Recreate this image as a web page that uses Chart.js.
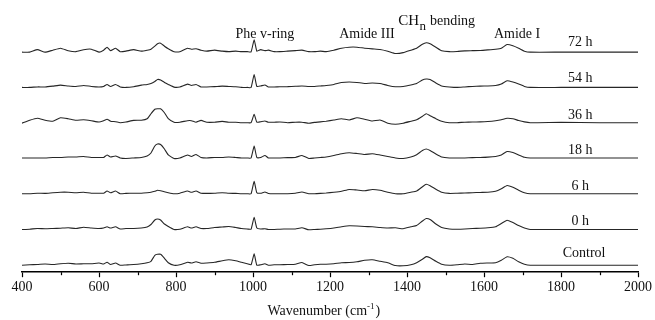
<!DOCTYPE html>
<html>
<head>
<meta charset="utf-8">
<script src="https://cdn.jsdelivr.net/npm/chart.js@4.4.1/dist/chart.umd.min.js"></script>
<style>
  html, body { margin: 0; padding: 0; background: #fff; }
  #wrap { width: 655px; height: 320px; }
</style>
</head>
<body>
<div id="wrap"><canvas id="c" width="655" height="320"></canvas></div>
<script>
// ---- data ----
const wavenumbers = [400,420,440,460,480,500,520,540,560,580,600,
  612,621,630,643,655,670,690,710,
  725,735,745,752,760,770,780,795,810,
  830,840,852,865,880,900,920,937,955,970,985,995,
  1003,1010,1020,1031,1040,1055,1070,1090,1110,1127,1145,1160,1175,1190,1210,
  1230,1250,1270,1290,1310,1330,1350,1370,1390,1410,
  1425,1440,1450,1460,1475,1490,
  1510,1530,1550,1570,1590,1610,1630,
  1645,1660,1675,1690,1705,1720,
  1800,1900,2000];

const seriesNames = ['Control', '0 h', '6 h', '18 h', '36 h', '54 h', '72 h'];
const offsets = [7, 43, 79, 115, 150.5, 186, 221.5];

const control = [0,0.5,0.7,1.3,0.7,1.5,2,1.3,1.5,1.5,2.3,
  1.3,3,0.7,2.3,0,0.3,0.7,1.5,
  2.5,4,10,11,11,7,2.5,0,0.5,
  3,2.3,3.5,2,2.3,3,4.5,5.5,4.5,3,1.5,0.5,
  11.5,0,0.5,1.5,0,0.5,0.5,0.7,1,2.7,-0.3,0.5,1,1,1.5,
  2.5,2.7,3.5,5,5.5,4,2.5,-0.3,-0.5,0.5,
  2.5,6,8.7,7.5,4,1,
  0,0.5,1.3,0.7,2,2.3,2.5,
  5,8.5,7,3.5,1,0,
  0,0,0];
const h0 = [0,0.3,1,0.7,1,1.3,1.7,1,2.3,1.5,1,
  1.5,2.7,1.5,2.7,0.5,1,1,1.5,
  2.5,5,9.5,10.5,9.5,5.5,3,0,0.3,
  2.7,1.5,2.7,1,1,2,2.5,3,2,1,0.5,0.3,
  12.3,1.5,0.5,0.7,0,0,0.3,0.5,0.5,1.7,-0.3,0,0.3,0.7,1.5,
  2.7,3.7,3.5,3,2.7,2,1.5,1.7,0.7,2.7,
  4,8.5,11,10,5.5,2,
  0.5,0.3,0.5,1,1.3,1.7,2.7,
  6,9.3,7,4,1.5,0,
  0,0,0];
const h6 = [0,0,0.5,0.3,1,1.5,1.5,1,1.5,0.5,0.5,
  0.5,2.7,1,2.7,0,0.3,0.5,0.5,
  1,1.5,2.5,3.5,3,2,1,0,0.5,
  2.7,1.5,2.7,0.5,0.3,0.5,1,0.5,0.3,0,0,0,
  12.5,1,0.5,1.7,0.3,0,0,0,0.5,1.7,0,0,0.3,0.7,1.5,
  2.5,4.3,3.7,3,4.3,3.5,1.5,0,0,1.5,
  2.7,7,9.5,8,4.5,1.5,
  0.3,0.5,0.7,1,1.3,1.5,2.5,
  5,8.3,6.5,3.5,1,0,
  0,0,0];
const h18 = [0,0,0,0,0.5,0.5,1,1,1.5,0.5,0.5,
  0.5,3,1,2,0,-0.5,0,0.5,
  2,5,12,14,13.5,9,3,-0.5,0,
  3,1.5,3.5,0.5,0,0.5,0.5,1,0.5,0,0,0,
  12,0.5,0.5,2.5,0,0,0,0.3,0.5,2.5,-0.5,0,0.5,1,2.5,
  4.3,5.3,4.5,3.5,4.3,3,1.5,0,-0.5,1,
  3.3,7.5,9,7.5,4,1,
  0,0,0,0.3,0.5,0.8,1.5,
  3,6.5,5.5,3,0.7,0,
  0,0,0];
const h36 = [-0.5,2.5,4.5,2.5,1.5,5,4,2.5,3,2,0.7,
  2,3.5,1.5,1,0,0.7,2.3,2.5,
  4,9,13.5,14,14,10,4,0.5,0.5,
  2,2,0.5,2.3,0.5,0.5,1.3,0.5,0.5,0,0,0,
  8.5,0.5,1,1.7,0.5,0.5,0.7,0,0.5,0.5,-0.5,0.3,0.8,1.5,2.7,
  4,2.7,5,3.5,1.7,2.7,-0.5,-1.5,-0.5,1.5,
  3,6.5,9,7,4,1.5,
  0,0,0.5,0.7,0.8,1.2,2,
  3,4.5,4,2.2,0.8,0,
  0.3,0,0];
const h54 = [0,0,0.5,0.5,1.3,2.3,1.5,1,2,1,0.5,
  1,3,1,3,0.5,0,0.7,2.3,
  3,4,6,8,7.5,5,3,0.3,0.5,
  3.3,2,3,0.5,0.5,0.8,1.3,1,0.7,0,0,0,
  13,1,1.5,2.5,0.5,0.5,0.7,0.8,1.2,1.5,1,1,1.5,2,3,
  5,5.5,5,4,4.5,4,2,0.7,1,2.5,
  4,7.5,8.5,8,4.5,1.5,
  0.5,0,0.5,1,1.3,1.5,2,
  3.5,6.7,5.5,3.5,1,0,
  0,0,0];
const h72 = [0,0,2.5,0,2,4,1.5,0.5,2.5,3,0,
  2,5,1.5,4,0.5,1,2.5,1,
  2,3,6,8.5,9,6,3.5,0.5,0.5,
  4,3,3.5,2,1,2,1,0.5,1,0.5,0.5,0.3,
  12.5,1,2.5,1.5,2,0.5,0.5,1,1.5,2,0.5,0.5,1,0.5,2,
  4,5,5,4,3.3,2.7,1,-1.3,-0.5,2,
  4,8,9.5,8.5,5,1.5,
  0.5,0.7,1.3,1.5,1.7,2.3,3,
  4,7.7,6.5,4,1,0,
  0,0,0];

const seriesValues = [control, h0, h6, h18, h36, h54, h72];
const xTickStep = 200;
const minorTicks = [500, 700, 900, 1100, 1300, 1500, 1700, 1900];

// label anchors (wavenumber positions)
const labelWn = [1860, 1850, 1850, 1850, 1850, 1850, 1850];
const labelLift = [8, 4, 4, 4, 4, 5, 6];

// ---- chart ----
const datasets = seriesValues.map((vals, i) => ({
  label: seriesNames[i],
  data: wavenumbers.map((w, j) => ({ x: w, y: offsets[i] + vals[j] })),
  borderColor: '#262626',
  borderWidth: 1.1,
  pointRadius: 0,
  fill: false,
  tension: 0.15
}));

const serif = '"Liberation Serif", "Times New Roman", serif';

const textPlugin = {
  id: 'texts',
  afterDraw(chart) {
    const ctx = chart.ctx;
    const xs = chart.scales.x;
    const ys = chart.scales.y;
    ctx.save();
    // minor ticks
    ctx.strokeStyle = '#000';
    ctx.lineWidth = 1.2;
    minorTicks.forEach(v => {
      const px = Math.round(xs.getPixelForValue(v)) + 0.5;
      ctx.beginPath();
      ctx.moveTo(px, xs.top);
      ctx.lineTo(px, xs.top + 3);
      ctx.stroke();
    });
    ctx.fillStyle = '#111';
    ctx.textBaseline = 'alphabetic';
    // series labels
    ctx.font = '14px ' + serif;
    ctx.textAlign = 'center';
    seriesNames.forEach((n, i) => {
      const px = xs.getPixelForValue(labelWn[i]);
      const py = ys.getPixelForValue(offsets[i]) - labelLift[i];
      ctx.fillText(n, px, py);
    });
    // band annotations
    const top = chart.chartArea.top;
    ctx.fillText('Phe v-ring', xs.getPixelForValue(1031), top + 38);
    ctx.fillText('Amide III', xs.getPixelForValue(1296), top + 38);
    ctx.fillText('Amide I', xs.getPixelForValue(1686), top + 38);
    ctx.textAlign = 'left';
    let x0 = xs.getPixelForValue(1377);
    ctx.font = '15px ' + serif;
    ctx.fillText('CH', x0, top + 25);
    x0 += ctx.measureText('CH').width;
    ctx.font = '13px ' + serif;
    ctx.fillText('n', x0 + 0.5, top + 30);
    x0 += ctx.measureText('n').width + 1;
    ctx.font = '14px ' + serif;
    ctx.fillText(' bending', x0, top + 25);
    // axis title
    ctx.font = '14px ' + serif;
    const t1 = 'Wavenumber (cm';
    const w1 = ctx.measureText(t1).width;
    ctx.font = '9px ' + serif;
    const t2 = '-1';
    const w2 = ctx.measureText(t2).width;
    ctx.font = '14px ' + serif;
    const w3 = ctx.measureText(')').width;
    const total = w1 + w2 + w3 + 1;
    let tx = xs.getPixelForValue(1184) - total / 2;
    const ty = chart.height - 5;
    ctx.fillText(t1, tx, ty);
    tx += w1;
    ctx.font = '9px ' + serif;
    ctx.fillText(t2, tx, ty - 6);
    tx += w2 + 1;
    ctx.font = '14px ' + serif;
    ctx.fillText(')', tx, ty);
    ctx.restore();
  }
};

new Chart(document.getElementById('c'), {
  type: 'line',
  data: { datasets },
  options: {
    responsive: false,
    animation: false,
    events: [],
    layout: { padding: { left: 22, right: 17, top: 0, bottom: 22 } },
    plugins: { legend: { display: false }, tooltip: { enabled: false } },
    scales: {
      x: {
        type: 'linear',
        min: 400,
        max: 2000,
        ticks: {
          stepSize: xTickStep,
          color: '#111',
          padding: 2,
          maxRotation: 0,
          autoSkip: false,
          font: { family: serif, size: 14 },
          callback: v => String(v)
        },
        grid: {
          display: true,
          drawOnChartArea: false,
          drawTicks: true,
          tickLength: 5,
          tickColor: '#000',
          tickWidth: 1.2
        },
        border: { display: true, color: '#000', width: 1.5 }
      },
      y: {
        display: false,
        min: 0,
        max: 274
      }
    }
  },
  plugins: [textPlugin]
});
</script>
</body>
</html>
